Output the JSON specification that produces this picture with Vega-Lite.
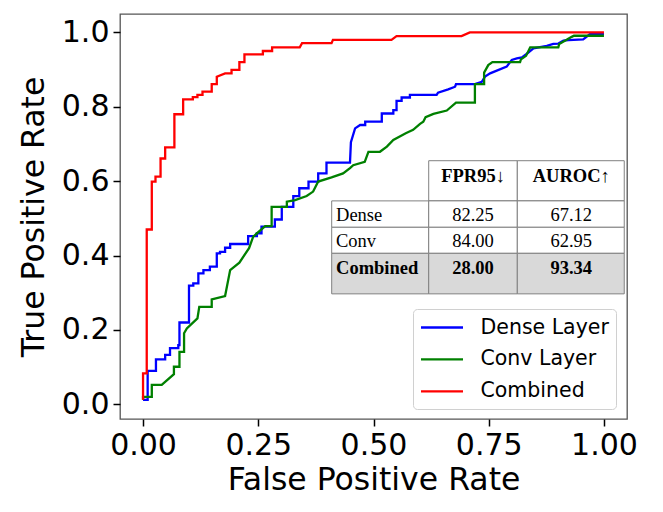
{
  "$schema": "https://vega.github.io/schema/vega-lite/v6.json",
  "width": 507,
  "height": 405,
  "autosize": {"type": "none"},
  "padding": {"left": 120, "top": 14, "right": 36, "bottom": 93},
  "background": "white",
  "datasets": {
    "curves": [
      {"series":"Dense Layer","x":0.0,"y":0.012},{"series":"Dense Layer","x":0.010,"y":0.012},{"series":"Dense Layer","x":0.010,"y":0.090},{"series":"Dense Layer","x":0.028,"y":0.090},{"series":"Dense Layer","x":0.028,"y":0.121},{"series":"Dense Layer","x":0.048,"y":0.121},{"series":"Dense Layer","x":0.048,"y":0.133},{"series":"Dense Layer","x":0.0585,"y":0.133},{"series":"Dense Layer","x":0.0585,"y":0.151},{"series":"Dense Layer","x":0.0765,"y":0.151},{"series":"Dense Layer","x":0.0765,"y":0.159},{"series":"Dense Layer","x":0.079,"y":0.159},{"series":"Dense Layer","x":0.079,"y":0.220},{"series":"Dense Layer","x":0.0997,"y":0.220},{"series":"Dense Layer","x":0.0997,"y":0.319},{"series":"Dense Layer","x":0.109,"y":0.319},{"series":"Dense Layer","x":0.109,"y":0.325},{"series":"Dense Layer","x":0.120,"y":0.325},{"series":"Dense Layer","x":0.120,"y":0.352},{"series":"Dense Layer","x":0.131,"y":0.352},{"series":"Dense Layer","x":0.131,"y":0.361},{"series":"Dense Layer","x":0.145,"y":0.361},{"series":"Dense Layer","x":0.145,"y":0.370},{"series":"Dense Layer","x":0.160,"y":0.370},{"series":"Dense Layer","x":0.160,"y":0.406},{"series":"Dense Layer","x":0.167,"y":0.406},{"series":"Dense Layer","x":0.167,"y":0.410},{"series":"Dense Layer","x":0.178,"y":0.410},{"series":"Dense Layer","x":0.178,"y":0.421},{"series":"Dense Layer","x":0.189,"y":0.421},{"series":"Dense Layer","x":0.189,"y":0.431},{"series":"Dense Layer","x":0.228,"y":0.431},{"series":"Dense Layer","x":0.228,"y":0.452},{"series":"Dense Layer","x":0.247,"y":0.452},{"series":"Dense Layer","x":0.247,"y":0.460},{"series":"Dense Layer","x":0.257,"y":0.460},{"series":"Dense Layer","x":0.257,"y":0.478},{"series":"Dense Layer","x":0.286,"y":0.478},{"series":"Dense Layer","x":0.286,"y":0.497},{"series":"Dense Layer","x":0.301,"y":0.497},{"series":"Dense Layer","x":0.301,"y":0.531},{"series":"Dense Layer","x":0.326,"y":0.531},{"series":"Dense Layer","x":0.326,"y":0.560},{"series":"Dense Layer","x":0.339,"y":0.560},{"series":"Dense Layer","x":0.339,"y":0.581},{"series":"Dense Layer","x":0.359,"y":0.581},{"series":"Dense Layer","x":0.359,"y":0.599},{"series":"Dense Layer","x":0.380,"y":0.599},{"series":"Dense Layer","x":0.380,"y":0.621},{"series":"Dense Layer","x":0.398,"y":0.621},{"series":"Dense Layer","x":0.398,"y":0.650},{"series":"Dense Layer","x":0.449,"y":0.650},{"series":"Dense Layer","x":0.451,"y":0.705},{"series":"Dense Layer","x":0.460,"y":0.742},{"series":"Dense Layer","x":0.471,"y":0.751},{"series":"Dense Layer","x":0.482,"y":0.751},{"series":"Dense Layer","x":0.482,"y":0.760},{"series":"Dense Layer","x":0.518,"y":0.760},{"series":"Dense Layer","x":0.518,"y":0.782},{"series":"Dense Layer","x":0.543,"y":0.782},{"series":"Dense Layer","x":0.543,"y":0.791},{"series":"Dense Layer","x":0.550,"y":0.791},{"series":"Dense Layer","x":0.550,"y":0.816},{"series":"Dense Layer","x":0.561,"y":0.816},{"series":"Dense Layer","x":0.561,"y":0.825},{"series":"Dense Layer","x":0.579,"y":0.825},{"series":"Dense Layer","x":0.579,"y":0.832},{"series":"Dense Layer","x":0.637,"y":0.832},{"series":"Dense Layer","x":0.640,"y":0.838},{"series":"Dense Layer","x":0.662,"y":0.847},{"series":"Dense Layer","x":0.677,"y":0.854},{"series":"Dense Layer","x":0.679,"y":0.861},{"series":"Dense Layer","x":0.720,"y":0.861},{"series":"Dense Layer","x":0.735,"y":0.867},{"series":"Dense Layer","x":0.742,"y":0.881},{"series":"Dense Layer","x":0.753,"y":0.890},{"series":"Dense Layer","x":0.789,"y":0.908},{"series":"Dense Layer","x":0.800,"y":0.926},{"series":"Dense Layer","x":0.811,"y":0.930},{"series":"Dense Layer","x":0.822,"y":0.933},{"series":"Dense Layer","x":0.832,"y":0.942},{"series":"Dense Layer","x":0.847,"y":0.957},{"series":"Dense Layer","x":0.876,"y":0.964},{"series":"Dense Layer","x":0.890,"y":0.969},{"series":"Dense Layer","x":0.901,"y":0.970},{"series":"Dense Layer","x":0.912,"y":0.978},{"series":"Dense Layer","x":0.923,"y":0.979},{"series":"Dense Layer","x":0.955,"y":0.981},{"series":"Dense Layer","x":0.962,"y":0.988},{"series":"Dense Layer","x":0.970,"y":0.996},{"series":"Dense Layer","x":1.0,"y":0.996},
      {"series":"Conv Layer","x":0.0,"y":0.012},{"series":"Conv Layer","x":0.0,"y":0.020},{"series":"Conv Layer","x":0.019,"y":0.020},{"series":"Conv Layer","x":0.019,"y":0.052},{"series":"Conv Layer","x":0.0405,"y":0.052},{"series":"Conv Layer","x":0.067,"y":0.081},{"series":"Conv Layer","x":0.067,"y":0.101},{"series":"Conv Layer","x":0.079,"y":0.101},{"series":"Conv Layer","x":0.079,"y":0.141},{"series":"Conv Layer","x":0.089,"y":0.141},{"series":"Conv Layer","x":0.089,"y":0.191},{"series":"Conv Layer","x":0.095,"y":0.204},{"series":"Conv Layer","x":0.118,"y":0.231},{"series":"Conv Layer","x":0.122,"y":0.262},{"series":"Conv Layer","x":0.149,"y":0.262},{"series":"Conv Layer","x":0.149,"y":0.282},{"series":"Conv Layer","x":0.178,"y":0.291},{"series":"Conv Layer","x":0.189,"y":0.361},{"series":"Conv Layer","x":0.209,"y":0.381},{"series":"Conv Layer","x":0.230,"y":0.420},{"series":"Conv Layer","x":0.239,"y":0.451},{"series":"Conv Layer","x":0.265,"y":0.479},{"series":"Conv Layer","x":0.279,"y":0.479},{"series":"Conv Layer","x":0.279,"y":0.531},{"series":"Conv Layer","x":0.312,"y":0.531},{"series":"Conv Layer","x":0.312,"y":0.545},{"series":"Conv Layer","x":0.330,"y":0.549},{"series":"Conv Layer","x":0.355,"y":0.560},{"series":"Conv Layer","x":0.369,"y":0.572},{"series":"Conv Layer","x":0.380,"y":0.599},{"series":"Conv Layer","x":0.409,"y":0.610},{"series":"Conv Layer","x":0.434,"y":0.621},{"series":"Conv Layer","x":0.449,"y":0.635},{"series":"Conv Layer","x":0.456,"y":0.643},{"series":"Conv Layer","x":0.481,"y":0.652},{"series":"Conv Layer","x":0.489,"y":0.679},{"series":"Conv Layer","x":0.514,"y":0.679},{"series":"Conv Layer","x":0.529,"y":0.693},{"series":"Conv Layer","x":0.543,"y":0.711},{"series":"Conv Layer","x":0.570,"y":0.729},{"series":"Conv Layer","x":0.586,"y":0.738},{"series":"Conv Layer","x":0.601,"y":0.754},{"series":"Conv Layer","x":0.608,"y":0.760},{"series":"Conv Layer","x":0.613,"y":0.772},{"series":"Conv Layer","x":0.630,"y":0.781},{"series":"Conv Layer","x":0.659,"y":0.790},{"series":"Conv Layer","x":0.679,"y":0.811},{"series":"Conv Layer","x":0.720,"y":0.811},{"series":"Conv Layer","x":0.720,"y":0.861},{"series":"Conv Layer","x":0.740,"y":0.861},{"series":"Conv Layer","x":0.740,"y":0.892},{"series":"Conv Layer","x":0.749,"y":0.912},{"series":"Conv Layer","x":0.758,"y":0.920},{"series":"Conv Layer","x":0.818,"y":0.920},{"series":"Conv Layer","x":0.820,"y":0.928},{"series":"Conv Layer","x":0.831,"y":0.937},{"series":"Conv Layer","x":0.840,"y":0.960},{"series":"Conv Layer","x":0.901,"y":0.960},{"series":"Conv Layer","x":0.903,"y":0.969},{"series":"Conv Layer","x":0.919,"y":0.980},{"series":"Conv Layer","x":0.930,"y":0.988},{"series":"Conv Layer","x":0.935,"y":0.991},{"series":"Conv Layer","x":1.0,"y":0.991},
      {"series":"Combined","x":0.0,"y":0.012},{"series":"Combined","x":0.0,"y":0.083},{"series":"Combined","x":0.008,"y":0.083},{"series":"Combined","x":0.008,"y":0.470},{"series":"Combined","x":0.019,"y":0.470},{"series":"Combined","x":0.019,"y":0.599},{"series":"Combined","x":0.027,"y":0.599},{"series":"Combined","x":0.027,"y":0.612},{"series":"Combined","x":0.038,"y":0.612},{"series":"Combined","x":0.038,"y":0.661},{"series":"Combined","x":0.048,"y":0.661},{"series":"Combined","x":0.048,"y":0.691},{"series":"Combined","x":0.068,"y":0.691},{"series":"Combined","x":0.068,"y":0.780},{"series":"Combined","x":0.087,"y":0.780},{"series":"Combined","x":0.087,"y":0.820},{"series":"Combined","x":0.108,"y":0.820},{"series":"Combined","x":0.108,"y":0.826},{"series":"Combined","x":0.118,"y":0.826},{"series":"Combined","x":0.118,"y":0.832},{"series":"Combined","x":0.129,"y":0.832},{"series":"Combined","x":0.129,"y":0.841},{"series":"Combined","x":0.149,"y":0.841},{"series":"Combined","x":0.149,"y":0.861},{"series":"Combined","x":0.160,"y":0.861},{"series":"Combined","x":0.160,"y":0.881},{"series":"Combined","x":0.178,"y":0.890},{"series":"Combined","x":0.192,"y":0.890},{"series":"Combined","x":0.192,"y":0.899},{"series":"Combined","x":0.209,"y":0.899},{"series":"Combined","x":0.209,"y":0.920},{"series":"Combined","x":0.220,"y":0.920},{"series":"Combined","x":0.220,"y":0.941},{"series":"Combined","x":0.260,"y":0.941},{"series":"Combined","x":0.260,"y":0.950},{"series":"Combined","x":0.280,"y":0.950},{"series":"Combined","x":0.280,"y":0.960},{"series":"Combined","x":0.340,"y":0.960},{"series":"Combined","x":0.345,"y":0.971},{"series":"Combined","x":0.409,"y":0.971},{"series":"Combined","x":0.412,"y":0.980},{"series":"Combined","x":0.539,"y":0.980},{"series":"Combined","x":0.550,"y":0.990},{"series":"Combined","x":0.691,"y":0.990},{"series":"Combined","x":0.709,"y":1.0},{"series":"Combined","x":1.0,"y":1.0}
    ],
    "cells": [
      {"x":0.6198,"x2":0.812,"y":0.547,"y2":0.655,"fill":"#ffffff"},
      {"x":0.812,"x2":1.044,"y":0.547,"y2":0.655,"fill":"#ffffff"},
      {"x":0.4093,"x2":0.6198,"y":0.476,"y2":0.547,"fill":"#ffffff"},
      {"x":0.6198,"x2":0.812,"y":0.476,"y2":0.547,"fill":"#ffffff"},
      {"x":0.812,"x2":1.044,"y":0.476,"y2":0.547,"fill":"#ffffff"},
      {"x":0.4093,"x2":0.6198,"y":0.406,"y2":0.476,"fill":"#ffffff"},
      {"x":0.6198,"x2":0.812,"y":0.406,"y2":0.476,"fill":"#ffffff"},
      {"x":0.812,"x2":1.044,"y":0.406,"y2":0.476,"fill":"#ffffff"},
      {"x":0.4093,"x2":0.6198,"y":0.297,"y2":0.406,"fill":"#d9d9d9"},
      {"x":0.6198,"x2":0.812,"y":0.297,"y2":0.406,"fill":"#d9d9d9"},
      {"x":0.812,"x2":1.044,"y":0.297,"y2":0.406,"fill":"#d9d9d9"}
    ],
    "texts": [
      {"x":0.716,"y":0.599,"t":"FPR95↓","s":"bc"},
      {"x":0.929,"y":0.599,"t":"AUROC↑","s":"bc"},
      {"x":0.4187,"y":0.493,"t":"Dense","s":"nl"},
      {"x":0.716,"y":0.493,"t":"82.25","s":"nc"},
      {"x":0.929,"y":0.493,"t":"67.12","s":"nc"},
      {"x":0.4187,"y":0.424,"t":"Conv","s":"nl"},
      {"x":0.716,"y":0.424,"t":"84.00","s":"nc"},
      {"x":0.929,"y":0.424,"t":"62.95","s":"nc"},
      {"x":0.4187,"y":0.350,"t":"Combined","s":"bl"},
      {"x":0.716,"y":0.350,"t":"28.00","s":"bc"},
      {"x":0.929,"y":0.350,"t":"93.34","s":"bc"}
    ]
  },
  "encoding": {
    "x": {"field": "x", "type": "quantitative", "scale": {"domain": [-0.05, 1.05], "nice": false, "zero": false},
          "axis": {"title": "False Positive Rate", "values": [0, 0.25, 0.5, 0.75, 1.0], "format": ".2f", "labelPadding": 4, "titlePadding": 4}},
    "y": {"field": "y", "type": "quantitative", "scale": {"domain": [-0.0395, 1.0495], "nice": false, "zero": false},
          "axis": {"title": "True Positive Rate", "values": [0, 0.2, 0.4, 0.6, 0.8, 1.0], "format": ".1f", "labelPadding": 4, "titlePadding": 11}}
  },
  "layer": [
    {
      "data": {"name": "curves"},
      "mark": {"type": "line", "strokeWidth": 2.3, "interpolate": "linear"},
      "encoding": {
        "color": {"field": "series", "type": "nominal",
                  "scale": {"domain": ["Dense Layer", "Conv Layer", "Combined"], "range": ["#0000ff", "#008000", "#ff0000"]},
                  "legend": {"title": null, "orient": "none", "legendX": 293, "legendY": 295}}
      }
    },
    {
      "data": {"name": "cells"},
      "mark": {"type": "rect", "stroke": "#808080", "strokeWidth": 1},
      "encoding": {
        "x2": {"field": "x2"},
        "y2": {"field": "y2"},
        "fill": {"field": "fill", "type": "nominal", "scale": null}
      }
    },
    {
      "data": {"name": "texts"},
      "transform": [{"filter": "datum.s === 'nl'"}],
      "mark": {"type": "text", "font": "Liberation Serif", "fontSize": 18.5, "align": "left", "baseline": "alphabetic", "color": "black"},
      "encoding": {"text": {"field": "t"}}
    },
    {
      "data": {"name": "texts"},
      "transform": [{"filter": "datum.s === 'nc'"}],
      "mark": {"type": "text", "font": "Liberation Serif", "fontSize": 18.5, "align": "center", "baseline": "alphabetic", "color": "black"},
      "encoding": {"text": {"field": "t"}}
    },
    {
      "data": {"name": "texts"},
      "transform": [{"filter": "datum.s === 'bl'"}],
      "mark": {"type": "text", "font": "Liberation Serif", "fontSize": 18.5, "fontWeight": "bold", "align": "left", "baseline": "alphabetic", "color": "black"},
      "encoding": {"text": {"field": "t"}}
    },
    {
      "data": {"name": "texts"},
      "transform": [{"filter": "datum.s === 'bc'"}],
      "mark": {"type": "text", "font": "Liberation Serif", "fontSize": 18.5, "fontWeight": "bold", "align": "center", "baseline": "alphabetic", "color": "black"},
      "encoding": {"text": {"field": "t"}}
    }
  ],
  "config": {
    "view": {"stroke": "#555555", "strokeWidth": 1.3},
    "axis": {
      "grid": false,
      "domain": false,
      "ticks": true,
      "tickSize": 7,
      "tickWidth": 1.5,
      "tickColor": "black",
      "labelFont": "DejaVu Sans",
      "labelFontSize": 30,
      "labelColor": "black",
      "titleFont": "DejaVu Sans",
      "titleFontSize": 31.5,
      "titleFontWeight": "normal",
      "titleColor": "black",
      "labelOverlap": false,
      "labelFlush": false
    },
    "legend": {
      "fillColor": "rgba(255,255,255,0.85)",
      "strokeColor": "#d0d0d0",
      "cornerRadius": 4,
      "padding": 6.5,
      "labelFont": "DejaVu Sans",
      "labelFontSize": 20.5,
      "labelColor": "black",
      "labelOffset": 37,
      "symbolType": "M-1,0H3",
      "symbolSize": 441,
      "symbolStrokeWidth": 2.3,
      "rowPadding": 8.9,
      "labelLimit": 400
    }
  }
}
